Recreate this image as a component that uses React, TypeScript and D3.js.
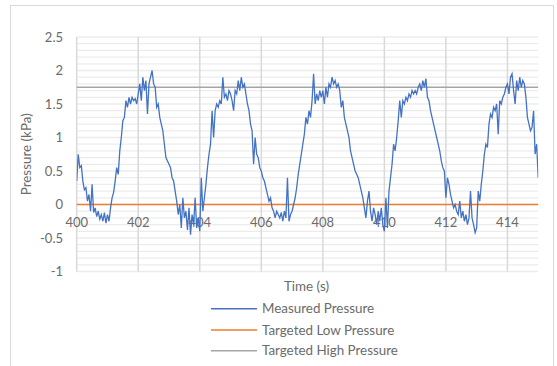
import React from "react";
import * as d3 from "d3";

// Sampling: one value every 0.05 s starting at 400 s
const startTime = 400;
const sampleStep = 0.05;

// Measured pressure (kPa), 20 samples per second
const measured: number[] = [
  // 400
  0.35, 0.75, 0.55, 0.58, 0.35, 0.22, 0.25, 0.05, 0.15, -0.1, 0.3, -0.12, -0.05, -0.18, -0.1, -0.22, -0.15, -0.25, -0.12, -0.28,
  // 401
  -0.15, -0.25, -0.05, 0.1, 0.18, 0.35, 0.55, 0.45, 0.8, 1.0, 1.25, 1.3, 1.55, 1.45, 1.6, 1.5, 1.6, 1.55, 1.58, 1.5,
  // 402
  1.65, 1.8, 1.55, 1.9, 1.7, 1.85, 1.35, 1.8, 1.9, 2.0, 1.8, 1.75, 1.45, 1.5, 1.3, 1.2, 1.1, 0.9, 0.7, 0.65,
  // 403
  0.6, 0.55, 0.4, 0.35, 0.2, 0.05, -0.15, 0.0, -0.35, 0.1, -0.2, -0.1, -0.38, -0.05, -0.45, -0.15, -0.3, 0.1, -0.35, -0.2,
  // 404
  -0.4, 0.4, -0.1, 0.1, 0.3, 0.55, 0.75, 0.9, 1.4, 1.0, 1.4, 1.5, 1.45, 1.55, 1.5, 1.9, 1.6, 1.65, 1.55, 1.7,
  // 405
  1.65, 1.55, 1.4, 1.7, 1.65, 1.85, 1.7, 1.9, 1.75, 1.8, 1.65, 1.5, 1.4, 1.2, 1.1, 0.6, 1.0, 0.75, 0.7, 0.55,
  // 406
  0.5, 0.4, 0.35, 0.25, 0.15, 0.05, 0.1, -0.05, -0.1, -0.2, -0.1, -0.15, -0.2, -0.12, -0.25, -0.1, -0.2, 0.4, -0.25, -0.15,
  // 407
  -0.1, 0.0, 0.1, 0.25, 0.45, 0.6, 0.75, 0.9, 1.05, 1.3, 1.2, 1.4, 1.3, 1.55, 1.95, 1.5, 1.65, 1.55, 1.7, 1.6,
  // 408
  1.7, 1.5, 1.75, 1.6, 1.8, 1.75, 1.9, 1.8, 1.85, 1.75, 1.8, 1.7, 1.45, 1.55, 1.3, 1.2, 1.1, 1.0, 0.8, 0.7,
  // 409
  0.6, 0.5, 0.45, 0.4, 0.3, 0.2, 0.1, -0.05, -0.2, 0.05, 0.2, -0.1, -0.25, -0.05, -0.15, -0.3, -0.1, -0.25, -0.05, -0.3,
  // 410
  -0.4, 0.1, -0.35, 0.2, 0.4, 0.6, 0.9, 0.8, 1.0, 1.25, 1.55, 1.3, 1.55, 1.5, 1.6, 1.55, 1.65, 1.6, 1.7, 1.65,
  // 411
  1.7, 1.65, 1.75, 1.8, 1.7, 1.85, 1.75, 1.88, 1.6, 1.55, 1.4, 1.3, 1.2, 1.1, 1.0, 0.9, 0.8, 0.65, 0.55, 0.5,
  // 412
  0.1, 0.4, 0.3, 0.15, 0.05, -0.05, 0.0, -0.1, -0.15, 0.05, -0.2, -0.1, -0.25, -0.15, -0.3, -0.2, 0.2, -0.2, -0.3, -0.42,
  // 413
  -0.35, 0.2, 0.05, 0.3, 0.5, 0.75, 0.9, 0.85, 1.2, 1.35, 1.3, 1.45, 1.4, 1.5, 1.05, 1.55, 1.5, 1.6, 1.65, 1.75,
  // 414
  1.8, 1.65, 1.9, 1.95, 1.7, 1.5, 1.85, 1.7, 1.9, 1.75, 1.85, 1.8, 1.6, 1.3, 1.2, 1.1, 1.15, 1.4, 0.75, 0.9,
  // 415
  0.4, 0.55,
];

const targetLow = 0;
const targetHigh = 1.75;

const xTicks = [400, 402, 404, 406, 408, 410, 412, 414];
const yTicks = [-1, -0.5, 0, 0.5, 1, 1.5, 2, 2.5];
const yMinorTicks = d3.range(-10, 26).map((i) => i / 10);

const seriesNames = ["Measured Pressure", "Targeted Low Pressure", "Targeted High Pressure"];
const seriesColors = ["#4472C4", "#ED7D31", "#A5A5A5"];

const FONT = "Lato, 'Liberation Sans', sans-serif";
const TEXT = "#6b6b6b";

export default function App() {
  const x = d3.scaleLinear().domain([400, 415]).range([76.7, 538.2]);
  const y = d3.scaleLinear().domain([-1, 2.5]).range([271.5, 37]);

  const pts: [number, number][] = measured.map((v, i) => [startTime + i * sampleStep, v]);
  const line = d3
    .line<[number, number]>()
    .x((d) => x(d[0]))
    .y((d) => y(d[1]));

  const legendY = [308.7, 330, 350.7];

  return (
    <svg
      width={557}
      height={366}
      style={{ position: "absolute", left: 0, top: 0, background: "#fff" }}
      fontFamily={FONT}
    >
      <rect x={10.5} y={5.5} width={543} height={380} fill="#fff" stroke="#d9d9d9" strokeWidth={1} />
      <defs>
        <clipPath id="plot">
          <rect x={x(400)} y={y(2.5) - 2} width={x(415) - x(400)} height={y(-1) - y(2.5) + 4} />
        </clipPath>
      </defs>
      {/* minor horizontal gridlines */}
      {yMinorTicks.map((t) => (
        <line key={"m" + t} x1={x(400)} x2={x(415)} y1={y(t)} y2={y(t)} stroke="#ececec" strokeWidth={1.3} />
      ))}
      {/* vertical major gridlines */}
      {xTicks.map((t) => (
        <line key={"v" + t} x1={x(t)} x2={x(t)} y1={y(2.5)} y2={y(-1)} stroke="#d9d9d9" strokeWidth={1.5} />
      ))}
      {/* y tick labels */}
      {yTicks.map((t) => (
        <text key={"yt" + t} x={63} y={y(t)} dy="0.35em" textAnchor="end" fontSize={13} fill={TEXT}>
          {t}
        </text>
      ))}
      {/* x tick labels */}
      {xTicks.map((t) => (
        <text key={"xt" + t} x={x(t)} y={y(0) + 18} dy="0.35em" textAnchor="middle" fontSize={13} fill={TEXT}>
          {t}
        </text>
      ))}
      {/* target lines */}
      <line x1={x(400)} x2={x(415)} y1={y(targetLow)} y2={y(targetLow)} stroke={seriesColors[1]} strokeWidth={1.5} />
      <line x1={x(400)} x2={x(415)} y1={y(targetHigh)} y2={y(targetHigh)} stroke={seriesColors[2]} strokeWidth={1.5} />
      {/* measured */}
      <path d={line(pts) || ""} fill="none" stroke={seriesColors[0]} strokeWidth={1.3} clipPath="url(#plot)" />
      {/* axis titles */}
      <text
        transform={`translate(26,${(y(2.5) + y(-1)) / 2}) rotate(-90)`}
        textAnchor="middle"
        dy="0.35em"
        fontSize={13.4}
        fill={TEXT}
      >
        Pressure (kPa)
      </text>
      <text x={306.5} y={286} dy="0.35em" textAnchor="middle" fontSize={13.4} fill={TEXT}>
        Time (s)
      </text>
      {/* legend */}
      {seriesNames.map((n, i) => (
        <g key={n}>
          <line x1={211} x2={257} y1={legendY[i]} y2={legendY[i]} stroke={seriesColors[i]} strokeWidth={1.5} />
          <text x={262} y={legendY[i]} dy="0.35em" fontSize={13.4} fill={TEXT}>
            {n}
          </text>
        </g>
      ))}
    </svg>
  );
}
